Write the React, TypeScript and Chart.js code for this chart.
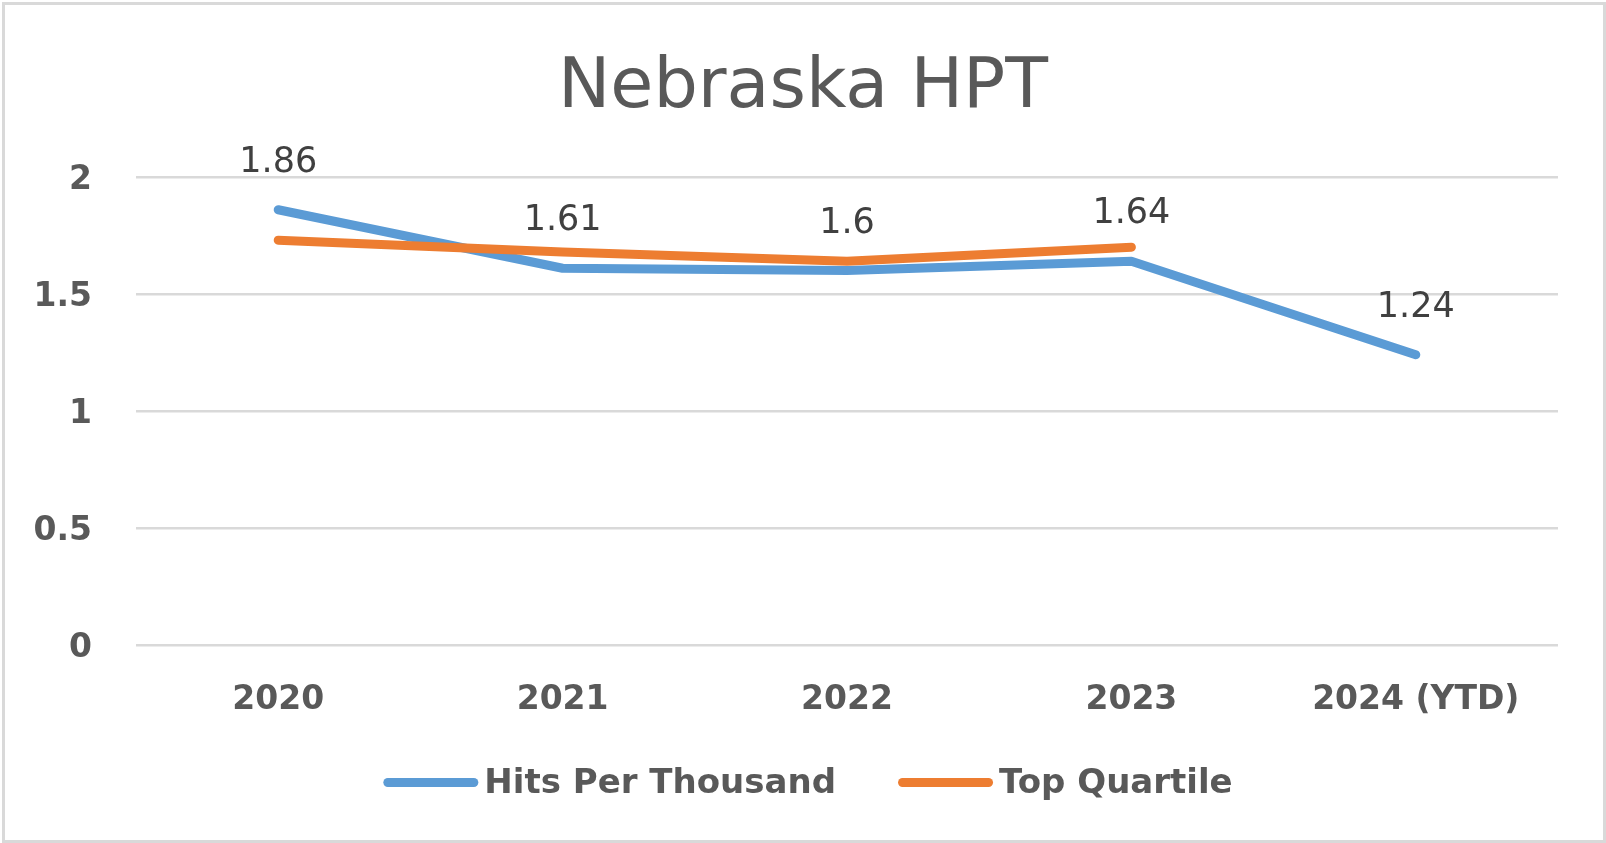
import React, { useEffect, useRef } from "react";
import { Chart, registerables } from "chart.js";

Chart.register(...registerables);

const titleText = "Nebraska HPT";
const categories = ["2020", "2021", "2022", "2023", "2024 (YTD)"];
const seriesNames = ["Hits Per Thousand", "Top Quartile"];
const hitsPerThousand = [1.86, 1.61, 1.6, 1.64, 1.24];
const topQuartile: (number | null)[] = [1.73, 1.68, 1.64, 1.7, null];
const yTickValues = [0, 0.5, 1, 1.5, 2];

const BLUE = "#5B9BD5";
const ORANGE = "#ED7D31";
const TEXT = "#595959";
const LABEL = "#404040";
const GRID = "#D9D9D9";
const FONT = "'DejaVu Sans', sans-serif";

const W = 1606;
const H = 843;

const dataLabelPlugin = {
  id: "dataLabels",
  afterDatasetsDraw(chart: any) {
    const ctx = chart.ctx;
    const meta = chart.getDatasetMeta(0);
    const values = chart.data.datasets[0].data;
    ctx.save();
    ctx.font = `35px ${FONT}`;
    ctx.fillStyle = LABEL;
    ctx.textAlign = "center";
    ctx.textBaseline = "middle";
    meta.data.forEach((pt: any, i: number) => {
      const v = values[i];
      if (v == null) return;
      ctx.fillText(String(v), pt.x, pt.y - 47);
    });
    ctx.restore();
  },
};

const legendPlugin = {
  id: "customLegend",
  afterDraw(chart: any) {
    const ctx = chart.ctx;
    const y = 782.5;
    const lineLen = 86;
    const cap = 4.5;
    const gapText = 6;
    const itemGap = 62;
    ctx.save();
    ctx.font = `bold 34px ${FONT}`;
    const items = chart.data.datasets.map((d: any) => ({
      label: d.label,
      color: d.borderColor,
      tw: ctx.measureText(d.label).width,
    }));
    const total =
      items.reduce((s: number, it: any) => s + lineLen + 2 * cap + gapText + it.tw, 0) +
      itemGap * (items.length - 1);
    let x = 808 - total / 2;
    items.forEach((it: any, idx: number) => {
      ctx.beginPath();
      ctx.strokeStyle = it.color;
      ctx.lineWidth = 9;
      ctx.lineCap = "round";
      ctx.moveTo(x + cap, y);
      ctx.lineTo(x + cap + lineLen, y);
      ctx.stroke();
      x += lineLen + 2 * cap + gapText;
      ctx.fillStyle = TEXT;
      ctx.textAlign = "left";
      ctx.textBaseline = "middle";
      ctx.fillText(it.label, x, y + 1.5);
      x += it.tw + itemGap;
    });
    ctx.restore();
  },
};

export default function App() {
  const canvasRef = useRef<HTMLCanvasElement | null>(null);

  useEffect(() => {
    document.body.style.margin = "0";
    const canvas = canvasRef.current;
    if (!canvas) return;
    const chart = new Chart(canvas, {
      type: "line",
      data: {
        labels: categories,
        datasets: [
          {
            label: seriesNames[0],
            data: hitsPerThousand,
            borderColor: BLUE,
            backgroundColor: BLUE,
            borderWidth: 9,
            pointRadius: 0,
            pointHoverRadius: 0,
            borderCapStyle: "round",
            borderJoinStyle: "round",
            tension: 0,
            fill: false,
            order: 1,
            yAxisID: "y",
          },
          {
            label: seriesNames[1],
            data: topQuartile,
            borderColor: ORANGE,
            backgroundColor: ORANGE,
            borderWidth: 9,
            pointRadius: 0,
            pointHoverRadius: 0,
            borderCapStyle: "round",
            borderJoinStyle: "round",
            tension: 0,
            fill: false,
            order: 0,
            yAxisID: "y",
          },
        ],
      },
      options: {
        responsive: false,
        animation: false,
        devicePixelRatio: 1,
        layout: { padding: { left: 0, right: 0, top: 0, bottom: 0 } },
        plugins: {
          legend: { display: false },
          tooltip: { enabled: false },
          title: {
            display: true,
            text: titleText,
            color: TEXT,
            font: { family: FONT, size: 70, weight: "normal", lineHeight: 1.2 },
            padding: { top: 47, bottom: 46 },
          },
        },
        scales: {
          x: {
            type: "category",
            offset: true,
            grid: { display: false, drawTicks: false },
            border: { display: false },
            ticks: {
              color: TEXT,
              font: { family: FONT, size: 33, weight: "bold", lineHeight: 1.2 },
              padding: 36,
              maxRotation: 0,
              autoSkip: false,
            },
            afterFit: (scale: any) => {
              scale.height = H - 645;
            },
          },
          y: {
            position: "left",
            min: 0,
            max: 2,
            afterBuildTicks: (scale: any) => {
              scale.ticks = yTickValues.map((v) => ({ value: v }));
            },
            grid: { color: GRID, lineWidth: 2.5, drawTicks: false },
            border: { display: false },
            ticks: {
              color: TEXT,
              font: { family: FONT, size: 33, weight: "bold" },
              padding: 44,
              labelOffset: 3,
              callback: (v: any) => String(v),
            },
            afterFit: (scale: any) => {
              scale.width = 136;
            },
          },
          yRightSpace: {
            position: "right",
            display: true,
            min: 0,
            max: 2,
            grid: { display: false, drawTicks: false },
            border: { display: false },
            ticks: { display: false },
            afterFit: (scale: any) => {
              scale.width = 48;
            },
          },
        },
      },
      plugins: [dataLabelPlugin, legendPlugin],
    });
    return () => chart.destroy();
  }, []);

  return (
    <div style={{ position: "relative", width: W, height: H, background: "#fff", overflow: "hidden" }}>
      <canvas ref={canvasRef} width={W} height={H} style={{ display: "block" }} />
      <div
        style={{
          position: "absolute",
          left: 2,
          top: 2,
          width: W - 2,
          height: H - 2,
          boxSizing: "border-box",
          border: `3px solid ${GRID}`,
          pointerEvents: "none",
        }}
      />
    </div>
  );
}
